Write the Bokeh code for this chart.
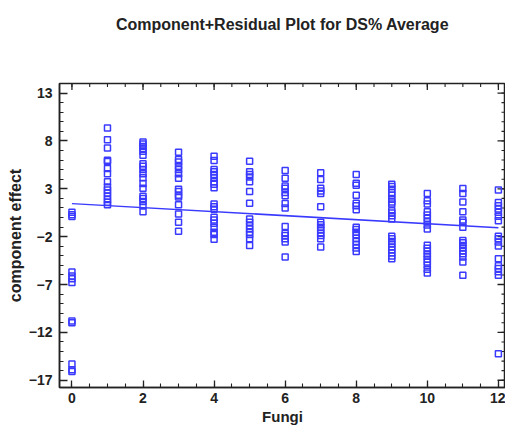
import math
from bokeh.plotting import figure
from bokeh.models import Range1d, FixedTicker, ColumnDataSource, Title
from bokeh.embed import file_html
from bokeh.resources import INLINE

title_text = "Component+Residual Plot for DS% Average"
x_label = "Fungi"
y_label = "component effect"

# component + residual values read per Fungi level
effect_f0 = [0.55, 0.3, 0.1, -5.7, -6.1, -6.4, -6.8, -10.8, -11.0, -15.3, -15.9, -16.1]
effect_f1 = [9.34, 8.12, 7.26, 5.98, 5.85, 5.12, 4.57, 3.74, 3.19, 2.88, 2.57, 2.22, 1.88, 1.60, 1.32]
effect_f2 = [7.89, 7.68, 7.43, 7.19, 6.91, 6.50, 5.61, 5.36, 5.02, 4.57, 4.16, 3.54, 3.05, 2.22, 1.98, 1.67, 1.22, 0.60]
effect_f3 = [6.81, 6.05, 5.81, 5.36, 5.02, 4.57, 4.09, 2.95, 2.71, 2.33, 2.15, 1.32, 0.36, -0.50, -1.43]
effect_f4 = [6.40, 5.95, 5.02, 4.78, 4.50, 4.16, 3.74, 3.47, 3.12, 1.40, 1.12, 0.85, 0.02, -0.26, -0.60, -1.02, -1.53, -1.78, -2.26]
effect_f5 = [5.88, 4.78, 4.50, 4.22, 3.74, 2.71, 1.50, -0.16, -0.50, -0.85, -1.19, -1.53, -1.78, -2.23, -2.92]
effect_f6 = [4.92, 4.09, 3.29, 3.05, 2.61, 2.26, 1.47, 0.98, -0.95, -1.64, -1.88, -2.23, -2.57, -4.12]
effect_f7 = [4.68, 3.98, 3.05, 2.78, 2.50, 1.12, -0.50, -0.75, -1.02, -1.30, -1.64, -1.88, -2.23, -3.09]
effect_f8 = [4.50, 3.57, 3.36, 2.33, 1.50, 1.22, 0.81, -1.02, -1.26, -1.53, -1.81, -2.16, -2.51, -2.85, -3.19, -3.54]
effect_f9 = [3.47, 3.23, 2.95, 2.61, 2.33, 1.91, 1.63, 1.40, 0.70, 0.46, 0.18, -0.16, -1.95, -2.23, -2.51, -2.78, -3.09, -3.37, -3.68, -4.02, -4.30]
effect_f10 = [2.50, 1.74, 1.40, 0.60, 0.26, -0.09, -0.44, -0.78, -1.19, -2.90, -3.20, -3.50, -3.80, -4.05, -4.35, -4.65, -5.00, -5.40, -5.80]
effect_f11 = [3.02, 2.50, 1.63, 0.60, -0.26, -0.50, -1.02, -2.40, -2.64, -2.92, -3.19, -3.47, -3.78, -4.12, -4.64, -6.03]
effect_f12 = [2.88, 1.57, 1.22, 0.88, 0.54, 0.12, -0.33, -1.95, -2.23, -2.57, -2.98, -4.30, -5.05, -5.33, -5.68, -6.03, -14.24]

fungi_levels = [0, 1, 2, 3, 4, 5, 6, 7, 8, 9, 10, 11, 12]
effects = [effect_f0, effect_f1, effect_f2, effect_f3, effect_f4, effect_f5, effect_f6,
           effect_f7, effect_f8, effect_f9, effect_f10, effect_f11, effect_f12]

fit_intercept = 1.45
fit_slope = -0.209
fit_x = [0, 12]

x_ticks = [0, 2, 4, 6, 8, 10, 12]
y_ticks = [-17, -12, -7, -2, 3, 8, 13]

X0, X1 = -0.35, 12.2
Y0, Y1 = -17.76, 14.0

xs, ys = [], []
for lvl, vals in zip(fungi_levels, effects):
    for v in vals:
        xs.append(lvl)
        ys.append(v)

src = ColumnDataSource(dict(x=xs, y=ys))
fit_src = ColumnDataSource(dict(x=fit_x, y=[fit_intercept + fit_slope * v for v in fit_x]))

FONT = "Liberation Sans"
BLUE = "#3a3aff"
DARK = "#222222"

W, H = 505, 427
ML, MR, MT, MB = 59, 0, 83, 40

p = figure(width=W, height=H, title=None,
           x_range=Range1d(X0, X1), y_range=Range1d(Y0, Y1),
           output_backend="svg", toolbar_location=None,
           min_border_left=ML, min_border_right=MR, min_border_top=MT, min_border_bottom=MB,
           x_axis_label=x_label, y_axis_label=y_label)

# spacer title (closest to the frame) and the visible title above it
spacer = Title(text=" ", text_font_size="10px", standoff=31)
p.add_layout(spacer, "above")
main_title = Title(text=title_text, align="center", vertical_align="top", standoff=10,
                   text_font=FONT, text_font_size="16px", text_font_style="bold",
                   text_color=DARK)
p.add_layout(main_title, "above")

p.grid.visible = False
p.outline_line_color = DARK
p.outline_line_width = 1.5
p.background_fill_color = "white"
p.border_fill_color = "white"

minor_x = [i * 0.5 for i in range(0, 25)]
minor_y = list(range(-18, 15))

p.xaxis.ticker = FixedTicker(ticks=x_ticks, minor_ticks=minor_x)
p.yaxis.ticker = FixedTicker(ticks=y_ticks, minor_ticks=minor_y)

for ax in p.xaxis + p.yaxis:
    ax.axis_line_color = DARK
    ax.axis_line_width = 1.5
    ax.major_tick_line_color = DARK
    ax.minor_tick_line_color = DARK
    ax.major_tick_line_width = 1.3
    ax.minor_tick_line_width = 1.1
    ax.major_tick_out = 0
    ax.minor_tick_out = 0
    ax.minor_tick_in = 4
    ax.major_label_text_font = FONT
    ax.major_label_text_font_style = "bold"
    ax.major_label_text_font_size = "14px"
    ax.major_label_text_color = DARK
    ax.axis_label_text_font = FONT
    ax.axis_label_text_font_style = "bold"
    ax.axis_label_text_color = DARK

p.yaxis.major_tick_in = 8
p.xaxis.major_tick_in = 7
p.xaxis.axis_label_text_font_size = "15px"
p.yaxis.axis_label_text_font_size = "16px"
p.xaxis.major_label_standoff = 5
p.xaxis.axis_label_standoff = 2
p.yaxis.major_label_standoff = 7
p.yaxis.axis_label_standoff = 2

# inward ticks along the top and right frame edges (half of each dash is clipped by the frame)
top_major = ColumnDataSource(dict(x=x_ticks, y=[Y1] * len(x_ticks)))
top_minor = ColumnDataSource(dict(x=minor_x, y=[Y1] * len(minor_x)))
right_major = ColumnDataSource(dict(x=[X1] * len(y_ticks), y=y_ticks))
right_minor = ColumnDataSource(dict(x=[X1] * len(minor_y), y=minor_y))
p.scatter("x", "y", source=top_major, marker="dash", size=13, angle=math.pi / 2,
          line_color=DARK, line_width=1.3)
p.scatter("x", "y", source=top_minor, marker="dash", size=7, angle=math.pi / 2,
          line_color=DARK, line_width=1.1)
p.scatter("x", "y", source=right_major, marker="dash", size=16,
          line_color=DARK, line_width=1.3)
p.scatter("x", "y", source=right_minor, marker="dash", size=8,
          line_color=DARK, line_width=1.1)

p.line("x", "y", source=fit_src, line_color=BLUE, line_width=1.5)
p.scatter("x", "y", source=src, marker="square", size=6, fill_color=None,
          line_color=BLUE, line_width=1.5)

open("out.html", "w").write(file_html(p, INLINE))
